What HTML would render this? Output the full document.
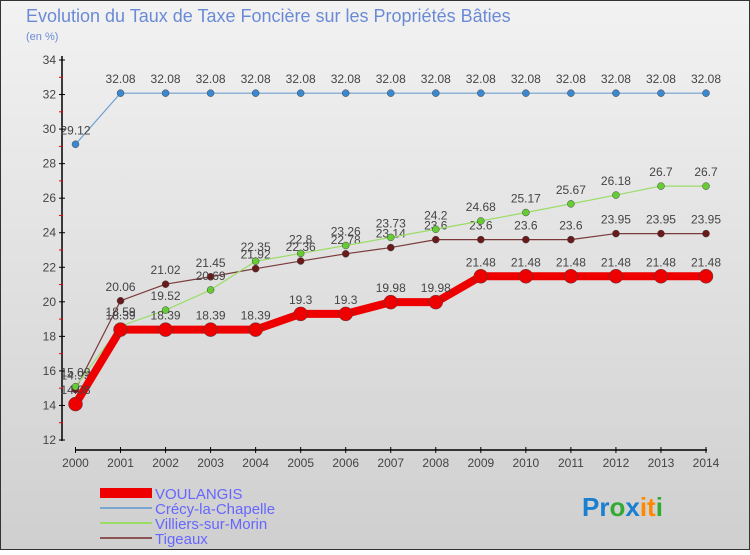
<!DOCTYPE html>
<html><head><meta charset="utf-8"><style>
body{margin:0;width:750px;height:550px;overflow:hidden;font-family:"Liberation Sans",sans-serif}
svg text{font-family:"Liberation Sans",sans-serif}
</style></head><body>
<svg id="c" width="750" height="550" xmlns="http://www.w3.org/2000/svg">
<defs><linearGradient id="bg" x1="0" y1="0" x2="0" y2="1"><stop offset="0" stop-color="#f2f2f2"/><stop offset="1" stop-color="#cfcfcf"/></linearGradient></defs>
<rect x="0.5" y="0.5" width="749" height="549" fill="url(#bg)" stroke="#333"/>
<text x="26" y="22" font-size="18" fill="#6b8ad6">Evolution du Taux de Taxe Foncière sur les Propriétés Bâties</text>
<text x="26" y="40" font-size="11" fill="#6b8ad6">(en %)</text>
<g id="axes"></g><g id="series"></g>
<g>
<rect x="100" y="488" width="52" height="10" fill="#e00"/>
<text x="155" y="499" font-size="15" fill="#6666ff">VOULANGIS</text>
<line x1="100" y1="508" x2="152" y2="508" stroke="#7aa7d0" stroke-width="2"/>
<text x="155" y="514" font-size="15" fill="#6666ff">Crécy-la-Chapelle</text>
<line x1="100" y1="523" x2="152" y2="523" stroke="#99dd66" stroke-width="2"/>
<text x="155" y="529" font-size="15" fill="#6666ff">Villiers-sur-Morin</text>
<line x1="100" y1="538" x2="152" y2="538" stroke="#8b5555" stroke-width="2"/>
<text x="155" y="544" font-size="15" fill="#6666ff">Tigeaux</text>
</g>
<text x="582" y="516" font-size="26" font-weight="bold"><tspan fill="#1a7fd0">Pr</tspan><tspan fill="#33aa33">o</tspan><tspan fill="#1a7fd0">x</tspan><tspan fill="#ff8800">it</tspan><tspan fill="#33aa33">i</tspan></text>
</svg>
<script>
const years=[2000,2001,2002,2003,2004,2005,2006,2007,2008,2009,2010,2011,2012,2013,2014];
const yTicks=[12,14,16,18,20,22,24,26,28,30,32,34];
const voulangis=[14.08,18.39,18.39,18.39,18.39,19.3,19.3,19.98,19.98,21.48,21.48,21.48,21.48,21.48,21.48];
const crecy=[29.12,32.08,32.08,32.08,32.08,32.08,32.08,32.08,32.08,32.08,32.08,32.08,32.08,32.08,32.08];
const villiers=[15.09,18.59,19.52,20.69,22.35,22.8,23.26,23.73,24.2,24.68,25.17,25.67,26.18,26.7,26.7];
const tigeaux=[14.93,20.06,21.02,21.45,21.92,22.36,22.78,23.14,23.6,23.6,23.6,23.6,23.95,23.95,23.95];
const NS="http://www.w3.org/2000/svg";
const xS=i=>75.5+i*(630.5/14);
const yS=v=>440-(v-12)*(380/22);
function mk(p,t,a){const e=document.createElementNS(NS,t);for(const k in a)e.setAttribute(k,a[k]);p.appendChild(e);return e;}
const ax=document.getElementById('axes');
const yl=mk(ax,'line',{x1:62,y1:56,x2:62,y2:441,stroke:'#000','stroke-width':1.5});


yTicks.forEach(v=>{
 mk(ax,'line',{x1:59,y1:yS(v),x2:65,y2:yS(v),stroke:'#000'});
 mk(ax,'line',{x1:59,y1:yS(v+1),x2:63,y2:yS(v+1),stroke:v<34?'#e00':'none'});
 const t=mk(ax,'text',{x:56,y:yS(v)+4,'font-size':12,fill:'#444','text-anchor':'end'});t.textContent=v;
 
 
});
const xl=mk(ax,'line',{x1:75,y1:450,x2:707,y2:450,stroke:'#000','stroke-width':1.5});


years.forEach((y,i)=>{
 mk(ax,'line',{x1:xS(i),y1:447,x2:xS(i),y2:453,stroke:'#000'});
 const t=mk(ax,'text',{x:xS(i),y:467,'font-size':12,fill:'#444','text-anchor':'middle'});t.textContent=y;
 
 
});
const sg=document.getElementById('series');
function series(d,name,col,w,r,dot){
 const g=mk(sg,'g',{});
 
 
 mk(g,'polyline',{points:d.map((v,i)=>xS(i)+','+yS(v)).join(' '),fill:'none',stroke:col,'stroke-width':w,'stroke-linejoin':'round'});
 d.forEach((v,i)=>{
  const c=mk(g,'circle',{cx:xS(i),cy:yS(v),r:r,fill:dot,stroke:'#444','stroke-width':0.5});
  
  
  const t=mk(g,'text',{x:xS(i),y:yS(v)-10,'font-size':12,fill:'#444','text-anchor':'middle'});t.textContent=v;
  
  
 });
}
series(crecy,'series-crecy','#6fa0cf',1.2,3.5,'#3a88d0');
series(tigeaux,'series-tigeaux','#7a3a3a',1.2,3.5,'#6a1a1a');
series(villiers,'series-villiers','#99dd66',1.2,3.5,'#66cc33');
series(voulangis,'series-voulangis','#ee0000',8,7,'#ee0000');
</script>
</body></html>
